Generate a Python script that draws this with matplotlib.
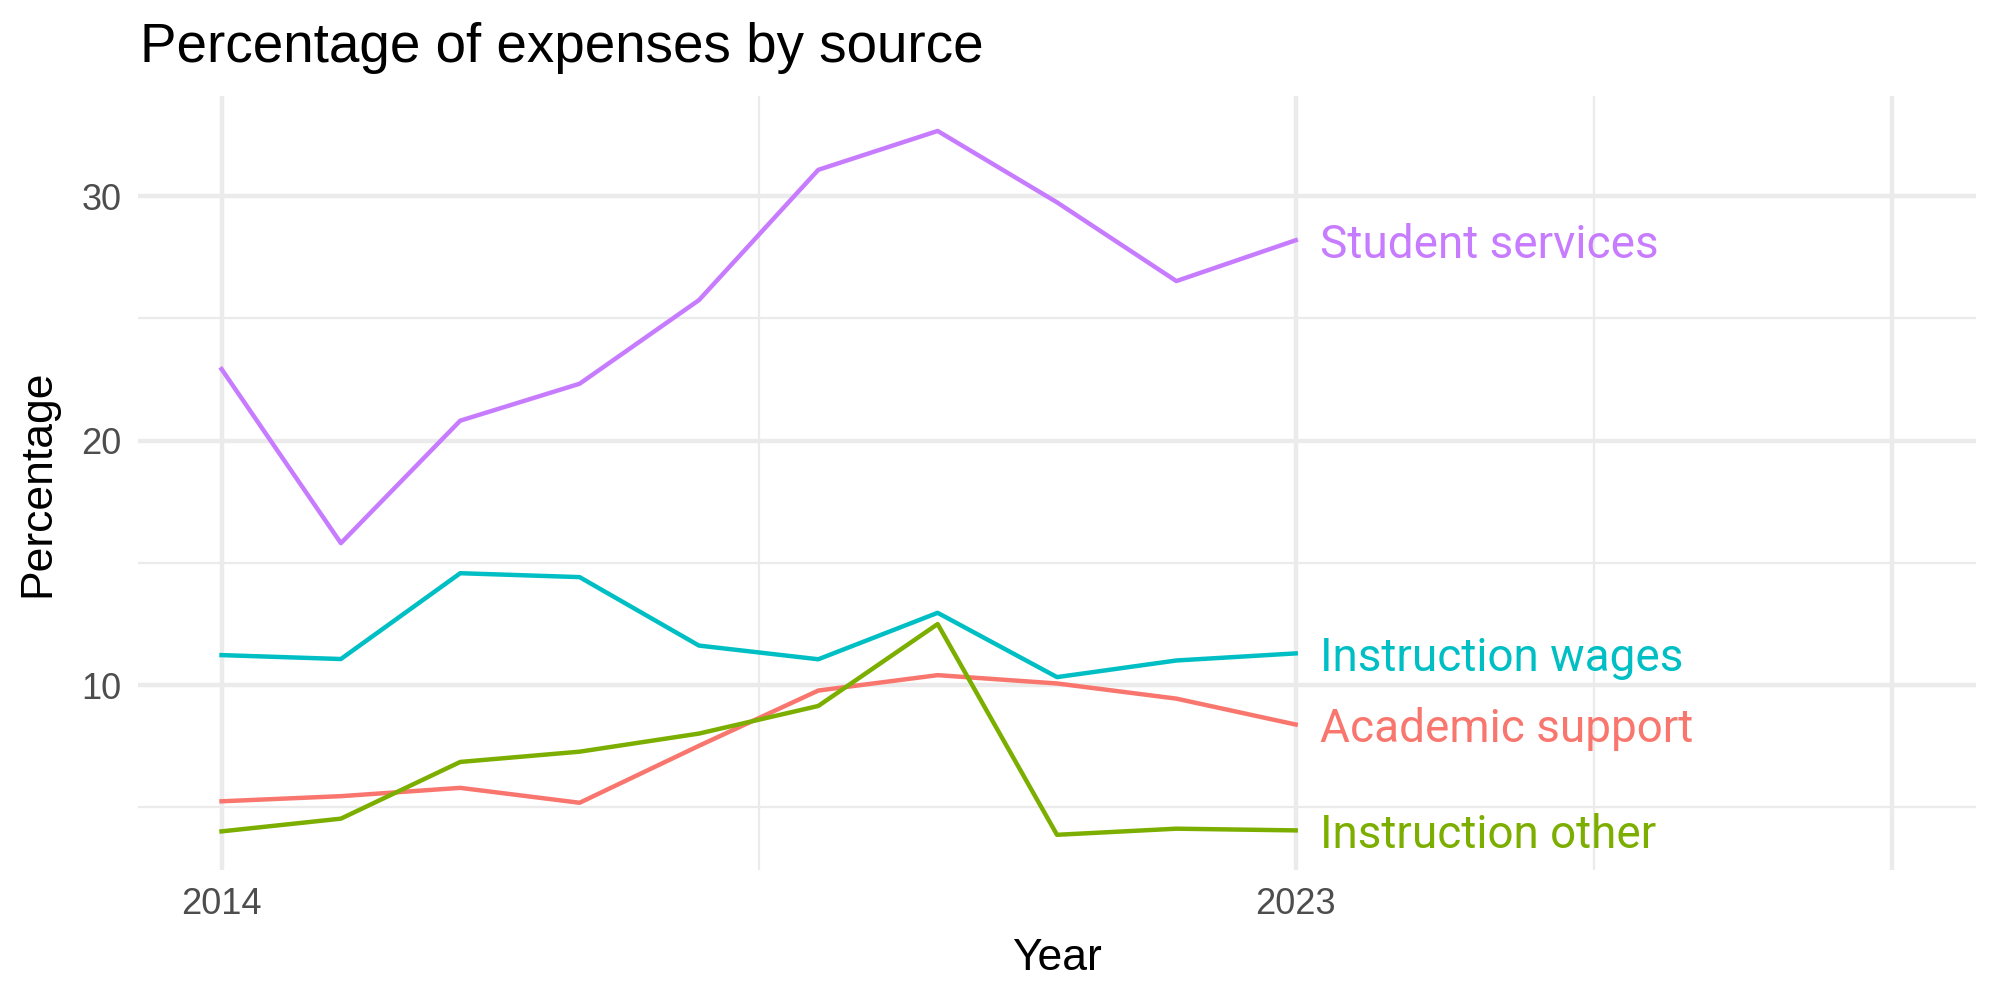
import matplotlib
matplotlib.use("Agg")
import matplotlib.pyplot as plt

years = [2014, 2015, 2016, 2017, 2018, 2019, 2020, 2021, 2022, 2023]
academic_support = [5.25, 5.46, 5.80, 5.19, 7.52, 9.78, 10.41, 10.07, 9.45, 8.39]
instruction_other = [4.02, 4.54, 6.86, 7.28, 8.02, 9.15, 12.50, 3.88, 4.13, 4.06]
instruction_wages = [11.23, 11.07, 14.58, 14.42, 11.62, 11.06, 12.96, 10.33, 11.01, 11.30]
student_services = [22.93, 15.81, 20.82, 22.33, 25.75, 31.08, 32.67, 29.75, 26.53, 28.20]

names = ["Academic support", "Instruction other", "Instruction wages", "Student services"]
colors = ["#F8766D", "#7CAE00", "#00BFC4", "#C77CFF"]
series = [academic_support, instruction_other, instruction_wages, student_services]

x_breaks = [2014, 2023, 2028]
x_labels = ["2014", "2023", ""]
y_breaks = [10, 20, 30]

plt.rcParams["font.family"] = ["Liberation Sans", "DejaVu Sans"]

fig = plt.figure(figsize=(10, 5), dpi=200)
ax = fig.add_axes([0.069, 0.13, 0.919, 0.774])

for name, col, vals in zip(names, colors, series):
    ax.plot(years, vals, color=col, lw=1.6, zorder=3)
    ax.text(years[-1] + 0.2, vals[-1], name, color=col, fontsize=16.5,
            family=["Roboto", "DejaVu Sans"], va="center_baseline", ha="left")

ax.set_xlim(2013.3, 2028.7)
ax.set_ylim(2.44, 34.1)
ax.set_xticks(x_breaks)
ax.set_xticklabels(x_labels)
ax.set_xticks([2018.5, 2025.5], minor=True)
ax.set_yticks(y_breaks)
ax.set_yticks([5, 15, 25], minor=True)

ax.grid(which="major", color="#EBEBEB", lw=1.6)
ax.grid(which="minor", color="#EBEBEB", lw=0.8)
ax.set_axisbelow(True)
for s in ax.spines.values():
    s.set_visible(False)
ax.tick_params(which="both", length=0, labelsize=13, labelcolor="#4D4D4D", pad=6)

ax.set_xlabel("Year", fontsize=16, labelpad=6)
ax.set_ylabel("Percentage", fontsize=16, labelpad=8)
fig.text(0.07, 0.952, "Percentage of expenses by source", fontsize=19.7, va="center", ha="left")

fig.savefig("out.png", dpi=200, facecolor="white")
